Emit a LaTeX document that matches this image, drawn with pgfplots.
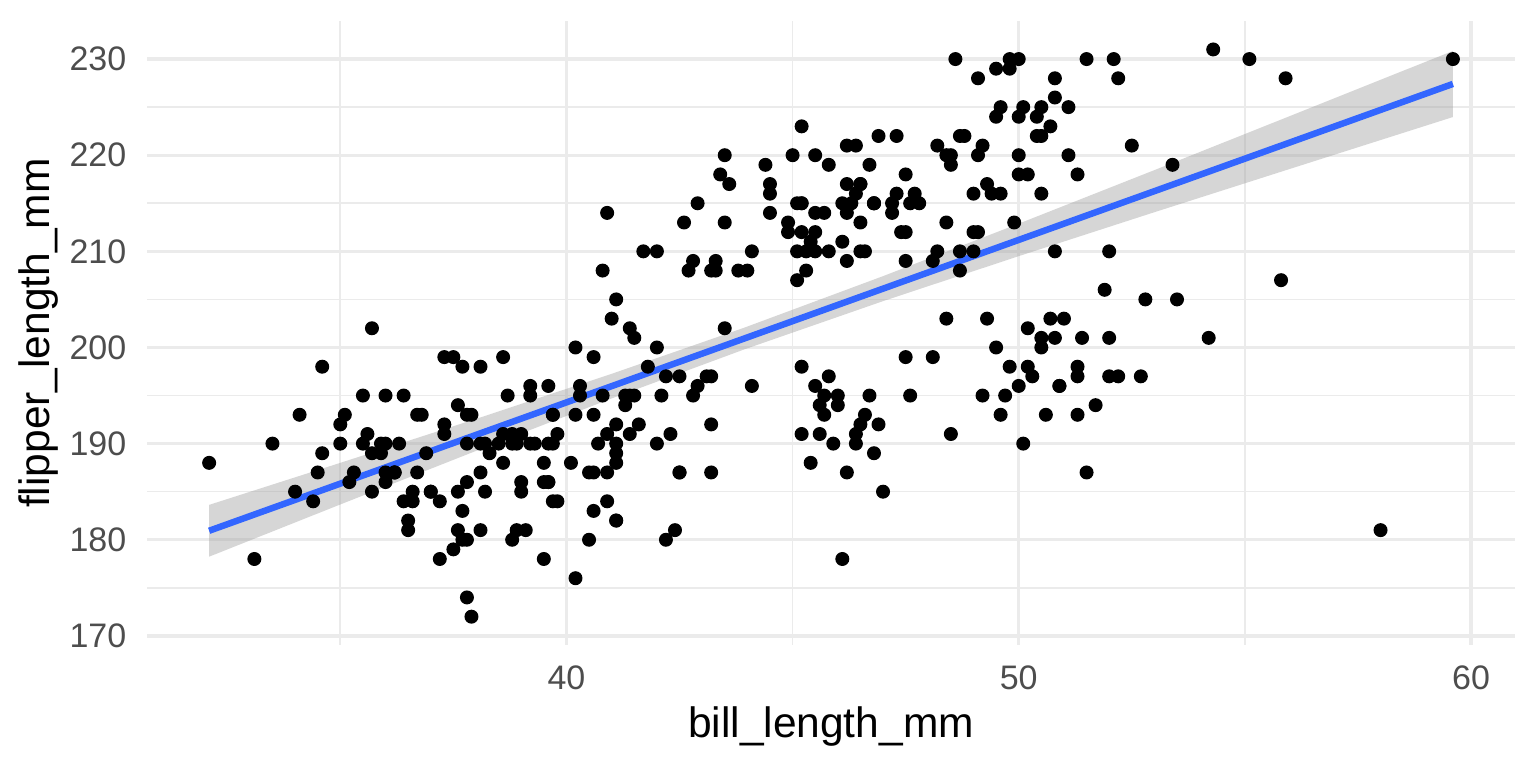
\documentclass[border=0pt]{standalone}
\usepackage{pgfplots}
\pgfplotsset{compat=1.18}
\usepackage{pgfplotstable}
\usepackage{fontspec}
\setmainfont{Liberation Sans}
\definecolor{gridc}{RGB}{235,235,235}
\definecolor{ticktext}{RGB}{77,77,77}
\definecolor{ggblue}{RGB}{51,102,255}
\definecolor{bandc}{RGB}{153,153,153}

\pgfplotstableread{
x y
39.1 181
39.5 186
40.3 195
36.7 193
39.3 190
38.9 181
39.2 195
34.1 193
42.0 190
37.8 186
37.8 180
41.1 182
38.6 191
34.6 198
36.6 185
38.7 195
42.5 197
34.4 184
46.0 194
37.8 174
37.7 180
35.9 189
38.2 185
38.8 180
35.3 187
40.6 183
40.5 187
37.9 172
40.5 180
39.5 178
37.2 178
39.5 188
40.9 184
36.4 195
39.2 196
38.8 190
42.2 180
37.6 181
39.8 184
36.5 182
40.8 195
36.0 186
44.1 196
37.0 185
39.6 190
41.1 182
37.5 179
36.0 190
42.3 191
39.6 186
40.1 188
35.0 190
42.0 200
34.5 187
41.4 191
39.0 186
40.6 193
36.5 181
37.6 194
35.7 185
41.3 195
37.6 185
41.1 192
36.4 184
41.6 192
35.5 195
41.1 188
35.9 190
41.8 198
33.5 190
39.7 190
39.6 196
45.8 197
35.5 190
42.8 195
40.9 191
37.2 184
36.2 187
42.1 195
34.6 189
42.9 196
36.7 187
35.1 193
37.3 191
41.3 194
36.3 190
36.9 189
38.3 189
38.9 190
35.7 202
41.1 205
34.0 185
39.6 186
36.2 187
40.8 208
38.1 190
40.3 196
33.1 178
43.2 192
35.0 192
41.0 203
37.7 183
37.8 190
37.9 193
39.7 184
38.6 199
38.2 190
38.1 181
43.2 197
38.1 198
45.6 191
39.7 193
42.2 197
39.8 191
41.4 195
38.6 188
37.3 199
35.7 189
41.1 189
36.2 187
37.7 198
40.2 176
41.4 202
35.2 186
40.6 199
38.8 191
41.5 195
39.0 191
44.1 210
38.5 190
43.1 197
36.8 193
37.5 199
38.1 187
41.1 190
35.6 191
40.2 200
37.0 185
39.7 193
40.2 193
40.6 187
32.1 188
40.7 190
37.3 192
39.0 185
39.2 190
36.6 184
36.0 195
37.8 193
36.0 187
41.5 201
46.1 211
50.0 230
48.7 210
50.0 218
47.6 215
46.5 210
45.4 211
46.7 219
43.3 209
46.8 215
40.9 214
49.0 216
45.5 214
48.4 213
45.8 210
49.3 217
42.0 210
49.2 221
46.2 209
48.7 222
50.2 218
45.1 215
46.5 213
46.3 215
42.9 215
46.1 215
44.5 216
47.8 215
48.2 210
50.0 220
47.3 222
42.8 209
45.1 207
59.6 230
49.1 220
48.4 220
42.6 213
44.4 219
44.0 208
48.7 208
42.7 208
49.6 225
45.3 210
49.6 216
50.5 222
43.6 217
45.5 210
50.5 225
44.9 213
45.2 215
46.6 210
48.5 220
45.1 210
50.1 225
46.5 217
45.0 220
43.8 208
45.5 220
43.2 208
50.4 224
45.3 208
46.2 221
45.7 214
54.3 231
45.8 219
49.8 230
46.2 214
49.5 229
43.5 220
50.7 223
47.7 216
46.4 221
48.2 221
46.5 217
46.4 216
48.6 230
47.5 209
51.1 220
45.2 215
45.2 223
49.1 212
52.5 221
47.4 212
50.0 224
44.9 212
50.8 228
43.4 218
51.3 218
47.5 212
52.1 230
47.5 218
52.2 228
45.5 212
49.5 224
44.5 214
50.8 226
49.4 216
46.9 222
48.4 203
51.1 225
48.5 219
55.9 228
47.2 215
49.1 228
47.3 216
46.8 215
41.7 210
53.4 219
43.3 208
48.1 209
50.5 216
49.8 229
43.5 213
51.5 230
46.2 217
55.1 230
44.5 217
48.8 222
47.2 214
46.8 215
50.4 222
45.2 212
49.9 213
46.5 192
50.0 196
51.3 193
45.4 188
52.7 197
45.2 198
46.1 178
51.3 197
46.0 195
51.3 198
46.6 193
51.7 194
47.0 185
52.0 201
45.9 190
50.5 201
50.3 197
58.0 181
46.4 190
49.2 195
42.4 181
48.5 191
43.2 187
50.6 193
46.7 195
52.0 197
50.5 200
49.5 200
46.4 191
52.8 205
40.9 187
54.2 201
42.5 187
51.0 203
49.7 195
47.5 199
47.6 195
52.0 210
46.9 192
53.5 205
49.0 210
46.2 187
50.9 196
45.5 196
50.9 196
50.8 201
50.1 190
49.0 212
51.5 187
49.8 198
48.1 199
51.4 201
45.7 193
50.7 203
42.5 187
52.2 197
45.2 191
49.3 203
50.2 202
45.6 194
51.9 206
46.8 189
45.7 195
55.8 207
43.5 202
49.6 193
50.8 210
50.2 198
}\penguins

\begin{document}
\begin{tikzpicture}
\useasboundingbox (0,0) rectangle (505.89pt,252.94pt);
\begin{axis}[
  at={(48.4pt,40.5pt)}, anchor=south west,
  scale only axis, width=450.6pt, height=205.5pt,
  xmin=30.725, xmax=60.975, ymin=169.05, ymax=233.95,
  xtick={40,50,60}, ytick={170,180,...,230},
  minor xtick={35,45,55}, minor ytick={175,185,...,225},
  grid=both,
  major grid style={draw=gridc, line width=1.07pt},
  minor grid style={draw=gridc, line width=0.53pt},
  axis line style={draw=none},
  major tick length=0pt, minor tick length=0pt,
  tick style={draw=none},
  /pgf/number format/assume math mode=true,
  ticklabel style={font=\fontsize{11.2}{13}\selectfont, text=ticktext, inner sep=0pt},
  xticklabel style={anchor=north, yshift=-6.6pt},
  yticklabel style={anchor=east, xshift=-6.6pt},
  xlabel={bill\_length\_mm}, ylabel={flipper\_length\_mm},
  label style={font=\fontsize{14}{16}\selectfont, text=black, inner sep=0pt},
  xlabel style={at={(axis description cs:0.5,-0.1474)}, anchor=base},
  ylabel style={at={(axis description cs:-0.0709,0.5)}, anchor=base, rotate=0},
  clip=false,
]
\addplot[only marks, mark=*, mark size=2.1pt, mark options={draw=none, fill=black}] table[x=x, y=y] {\penguins};
\addplot[fill=bandc, fill opacity=0.4, draw=none] coordinates {
 (32.1,183.63) (35,188.00) (38,192.57) (41,197.26) (43.92,202.04) (47,207.42) (50,212.88) (53,218.45) (56,224.08) (59.6,230.85)
 (59.6,223.97) (56,218.58) (53,214.07) (50,209.50) (47,204.82) (43.92,199.78) (41,194.70) (38,189.24) (35,183.67) (32.1,178.24)
} -- cycle;
\addplot[color=ggblue, line width=2.13pt] coordinates {(32.1,180.936) (59.6,227.414)};
\end{axis}
\end{tikzpicture}
\end{document}
